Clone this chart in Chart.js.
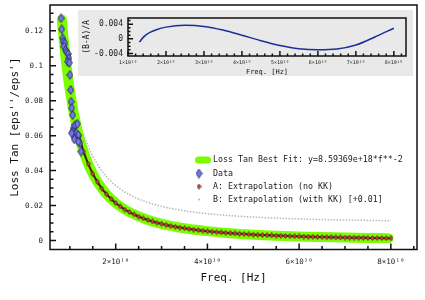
<!DOCTYPE html>
<html>
<head>
<meta charset="utf-8">
<script src="https://cdn.jsdelivr.net/npm/chart.js@4.4.1/dist/chart.umd.min.js"></script>
<style>
  body { margin: 0; background: #fff; }
  #wrap { position: relative; width: 425px; height: 300px; }
  #main { position: absolute; left: 0; top: 0; }
  #insetBox { position: absolute; left: 78px; top: 10px; width: 335px; height: 66px; background: #e9e9e9; }
</style>
</head>
<body>
<div id="wrap">
  <canvas id="main" width="425" height="300"></canvas>
  <div id="insetBox"><canvas id="inset" width="335" height="66"></canvas></div>
</div>
<script>
// frequencies are in units of 1e10 Hz
const mono = "'DejaVu Sans Mono', monospace";

const dataFreq = [0.807, 0.822, 0.844, 0.857, 0.894, 0.872, 0.909, 0.931, 0.966, 0.981, 0.953, 0.988,
  1.003, 1.019, 1.025, 1.040, 1.062, 1.075, 1.112, 1.163, 1.062, 1.134, 1.184, 1.091, 1.221, 1.243,
  1.040, 1.097, 1.184];
const dataLoss = [0.1271, 0.1208, 0.1157, 0.1137, 0.1128, 0.1109, 0.1090, 0.1077, 0.1067, 0.1042, 0.1023, 0.1017,
  0.0947, 0.0861, 0.0794, 0.0757, 0.0718, 0.0642, 0.0661, 0.0667, 0.0623, 0.0614, 0.0604, 0.0594, 0.0557, 0.0509,
  0.0614, 0.0579, 0.0566];

const fitFreq = [0.825, 0.85, 0.9, 0.95, 1.0, 1.1, 1.2, 1.3, 1.4, 1.5, 1.6, 1.8, 2.0, 2.2, 2.5, 2.8,
  3.2, 3.6, 4.0, 4.5, 5.0, 5.5, 6.0, 6.5, 7.0, 7.5, 7.95];
const fitLoss = [0.1263, 0.1189, 0.1061, 0.0952, 0.0859, 0.0710, 0.0597, 0.0509, 0.0438, 0.0382, 0.0336, 0.0265,
  0.0215, 0.0178, 0.0138, 0.0110, 0.0084, 0.0066, 0.0054, 0.0042, 0.0034, 0.0028, 0.0024, 0.0020, 0.0018,
  0.0015, 0.0014];

const aFreq = [1.2, 1.3, 1.4, 1.5, 1.6, 1.7, 1.8, 1.9, 2.0, 2.1, 2.2, 2.3, 2.4, 2.5, 2.6, 2.7, 2.8, 2.9,
  3.0, 3.1, 3.2, 3.3, 3.4, 3.5, 3.6, 3.7, 3.8, 3.9, 4.0, 4.1, 4.2, 4.3, 4.4, 4.5, 4.6, 4.7, 4.8, 4.9,
  5.0, 5.1, 5.2, 5.3, 5.4, 5.5, 5.6, 5.7, 5.8, 5.9, 6.0, 6.1, 6.2, 6.3, 6.4, 6.5, 6.6, 6.7, 6.8, 6.9,
  7.0, 7.1, 7.2, 7.3, 7.4, 7.5, 7.6, 7.7, 7.8, 7.9, 8.0];
const aLoss = [0.05968, 0.05085, 0.04385, 0.03819, 0.03357, 0.02974, 0.02652, 0.02381, 0.02148, 0.01949,
  0.01776, 0.01625, 0.01492, 0.01375, 0.01271, 0.01179, 0.01096, 0.01022, 0.00955, 0.00894, 0.00839,
  0.00789, 0.00743, 0.00702, 0.00663, 0.00628, 0.00595, 0.00565, 0.00537, 0.00511, 0.00487, 0.00465,
  0.00444, 0.00424, 0.00406, 0.00389, 0.00373, 0.00358, 0.00344, 0.00330, 0.00318, 0.00306, 0.00295,
  0.00284, 0.00274, 0.00265, 0.00255, 0.00247, 0.00239, 0.00231, 0.00224, 0.00217, 0.00210, 0.00203,
  0.00197, 0.00191, 0.00186, 0.00180, 0.00175, 0.00170, 0.00166, 0.00161, 0.00157, 0.00153, 0.00149,
  0.00145, 0.00141, 0.00138, 0.00134];

const bFreq = aFreq.slice(1);
const bLoss = [0.06085, 0.05385, 0.04819, 0.04357, 0.03974, 0.03652, 0.03381, 0.03148, 0.02949, 0.02776,
  0.02625, 0.02492, 0.02375, 0.02271, 0.02179, 0.02096, 0.02022, 0.01955, 0.01894, 0.01839, 0.01789,
  0.01743, 0.01702, 0.01663, 0.01628, 0.01595, 0.01565, 0.01537, 0.01511, 0.01487, 0.01465, 0.01444,
  0.01424, 0.01406, 0.01389, 0.01373, 0.01358, 0.01344, 0.01330, 0.01318, 0.01306, 0.01295, 0.01284,
  0.01274, 0.01265, 0.01255, 0.01247, 0.01239, 0.01231, 0.01224, 0.01217, 0.01210, 0.01203, 0.01197,
  0.01191, 0.01186, 0.01180, 0.01175, 0.01170, 0.01166, 0.01161, 0.01157, 0.01153, 0.01149, 0.01145,
  0.01141, 0.01138, 0.01134];

const ratioFreq = [1.3, 1.4, 1.5, 1.75, 2.0, 2.5, 3.0, 3.5, 4.0, 4.5, 5.0, 5.5, 6.0, 6.5, 7.0, 7.5, 8.0];
const ratioVal = [-0.0009, 0.0004, 0.0013, 0.0025, 0.0032, 0.0037, 0.0034, 0.0024, 0.0010, -0.0005,
  -0.0018, -0.0027, -0.0030, -0.0028, -0.0017, 0.0005, 0.0029];

const xTickValues = [2, 4, 6, 8];
const xTickLabels = ['2×10¹⁰', '4×10¹⁰', '6×10¹⁰', '8×10¹⁰'];
const yTickValues = [0, 0.02, 0.04, 0.06, 0.08, 0.1, 0.12];
const yTickLabels = ['0', '0.02', '0.04', '0.06', '0.08', '0.1', '0.12'];

const insetXTickValues = [1, 2, 3, 4, 5, 6, 7, 8];
const insetXTickLabels = ['1×10¹⁰', '2×10¹⁰', '3×10¹⁰', '4×10¹⁰', '5×10¹⁰', '6×10¹⁰', '7×10¹⁰', '8×10¹⁰'];
const insetYTickValues = [-0.004, 0, 0.004];
const insetYTickLabels = ['-0.004', '0', '0.004'];

const legendLabels = [
  'Loss Tan Best Fit: y=8.59369e+18*f**-2',
  'Data',
  'A: Extrapolation (no KK)',
  'B: Extrapolation (with KK) [+0.01]'
];

function pts(xs, ys) {
  return xs.map((x, i) => ({ x: x, y: ys[i] }));
}

function diamond(w, h, fill, stroke, lw) {
  const c = document.createElement('canvas');
  c.width = w; c.height = h;
  const g = c.getContext('2d');
  g.beginPath();
  g.moveTo(w / 2, 0.6);
  g.lineTo(w - 0.6, h / 2);
  g.lineTo(w / 2, h - 0.6);
  g.lineTo(0.6, h / 2);
  g.closePath();
  g.fillStyle = fill;
  g.fill();
  g.strokeStyle = stroke;
  g.lineWidth = lw;
  g.stroke();
  return c;
}

const dataImg = diamond(7, 10, '#7878ec', '#22225e', 0.9);
const aImg = diamond(5, 6, '#e84848', '#3a1a1a', 0.8);

// keep the plot box where it is: no extra room for tick labels
function noPad(s) {
  s.paddingTop = 0; s.paddingBottom = 0; s.paddingLeft = 0; s.paddingRight = 0;
}

// border box plus inward ticks
const frame = {
  id: 'frame',
  afterDatasetsDraw(chart, args, o) {
    const { ctx, chartArea: a } = chart;
    const x = chart.scales.x, y = chart.scales.y;
    ctx.save();
    ctx.strokeStyle = '#111';
    ctx.lineWidth = o.lineWidth;
    ctx.beginPath();
    for (let v = o.xMinorStart; v <= x.max + 1e-9; v += o.xMinor) {
      const p = x.getPixelForValue(v);
      const major = Math.abs(v / o.xMajor - Math.round(v / o.xMajor)) < 1e-6;
      ctx.moveTo(p, a.bottom);
      ctx.lineTo(p, a.bottom - (major ? o.major : o.minor));
    }
    for (let v = o.yMinorStart; v <= y.max + 1e-12; v += o.yMinor) {
      const p = y.getPixelForValue(v);
      const major = Math.abs(v / o.yMajor - Math.round(v / o.yMajor)) < 1e-6;
      ctx.moveTo(a.left, p);
      ctx.lineTo(a.left + (major ? o.major : o.minor), p);
    }
    ctx.stroke();
    ctx.strokeRect(a.left, a.top, a.right - a.left, a.bottom - a.top);
    ctx.restore();
  }
};

const keyBox = {
  id: 'keyBox',
  afterDraw(chart, args, o) {
    const ctx = chart.ctx;
    ctx.save();
    ctx.font = o.size + 'px ' + mono;
    ctx.textBaseline = 'middle';
    legendLabels.forEach((t, i) => {
      const yy = o.rows[i];
      if (i === 0) {
        ctx.fillStyle = '#7cfc00';
        ctx.beginPath();
        ctx.roundRect(o.pillX - 8, yy - 3.5, 16, 7, 3.5);
        ctx.fill();
      } else if (i === 1) {
        ctx.drawImage(dataImg, o.symX - 3.5, yy - 5);
      } else if (i === 2) {
        ctx.drawImage(aImg, o.symX - 2.5, yy - 3);
      } else {
        ctx.fillStyle = '#b4b4b4';
        ctx.beginPath();
        ctx.arc(o.symX, yy, 1, 0, Math.PI * 2);
        ctx.fill();
      }
      ctx.fillStyle = '#222';
      ctx.fillText(t, o.textX, yy);
    });
    ctx.restore();
  }
};

new Chart(document.getElementById('main'), {
  type: 'scatter',
  data: {
    datasets: [
      { label: legendLabels[1], data: pts(dataFreq, dataLoss), pointStyle: dataImg, pointRadius: 4, order: 0 },
      { label: legendLabels[2], data: pts(aFreq, aLoss), showLine: true, borderColor: '#3e2020', borderWidth: 2,
        cubicInterpolationMode: 'monotone', pointStyle: aImg, pointRadius: 2, order: 1 },
      { label: legendLabels[3], data: pts(bFreq, bLoss), showLine: true, borderColor: '#b8b8b8', borderWidth: 1.5,
        borderDash: [1.5, 1.5], cubicInterpolationMode: 'monotone', pointRadius: 0, order: 2 },
      { label: legendLabels[0], data: pts(fitFreq, fitLoss), showLine: true, borderColor: '#7cfc00', borderWidth: 10,
        borderCapStyle: 'round', borderJoinStyle: 'round', cubicInterpolationMode: 'monotone', pointRadius: 0, order: 3 }
    ]
  },
  options: {
    responsive: false,
    animation: false,
    events: [],
    layout: { autoPadding: false, padding: { left: 0, right: 8, top: 5, bottom: 0 } },
    plugins: {
      legend: { display: false },
      tooltip: { enabled: false },
      frame: { lineWidth: 1.5, major: 6, minor: 3.5, xMajor: 2, xMinor: 0.5, xMinorStart: 1,
        yMajor: 0.02, yMinor: 0.005, yMinorStart: 0 },
      keyBox: { size: 8.3, rows: [160, 173.5, 186.5, 199.5], pillX: 203, symX: 199, textX: 213 }
    },
    scales: {
      x: {
        type: 'linear', min: 0.567, max: 8.57,
        grid: { display: false, drawTicks: false }, border: { display: false },
        afterBuildTicks: s => { s.ticks = xTickValues.map(v => ({ value: v })); },
        afterFit: s => { s.height = 50.5; noPad(s); },
        ticks: { callback: (v, i) => xTickLabels[i], font: { family: mono, size: 7.5 }, color: '#222',
          padding: 8, maxRotation: 0, autoSkip: false },
        title: { display: true, text: 'Freq. [Hz]', font: { family: mono, size: 11 }, color: '#111',
          padding: { top: 0, bottom: 15.5 } }
      },
      y: {
        type: 'linear', min: -0.0051, max: 0.1347,
        grid: { display: false, drawTicks: false }, border: { display: false },
        afterBuildTicks: s => { s.ticks = yTickValues.map(v => ({ value: v })); },
        afterFit: s => { s.width = 50; noPad(s); },
        ticks: { callback: (v, i) => yTickLabels[i], font: { family: mono, size: 7.5 }, color: '#222',
          padding: 7, autoSkip: false },
        title: { display: true, text: "Loss Tan [eps''/eps']", font: { family: mono, size: 11 }, color: '#111',
          padding: { top: 9, bottom: 0 } }
      }
    }
  },
  plugins: [frame, keyBox]
});

new Chart(document.getElementById('inset'), {
  type: 'scatter',
  data: {
    datasets: [
      { data: pts(ratioFreq, ratioVal), showLine: true, borderColor: '#1a2f9a', borderWidth: 1.5,
        cubicInterpolationMode: 'monotone', pointRadius: 0 }
    ]
  },
  options: {
    responsive: false,
    animation: false,
    events: [],
    layout: { autoPadding: false, padding: { left: 0, right: 7, top: 8, bottom: 0 } },
    plugins: {
      legend: { display: false },
      tooltip: { enabled: false },
      frame: { lineWidth: 1.5, major: 5, minor: 2.5, xMajor: 1, xMinor: 0.2, xMinorStart: 1,
        yMajor: 0.004, yMinor: 0.001, yMinorStart: -0.004 }
    },
    scales: {
      x: {
        type: 'linear', min: 1, max: 8.32,
        grid: { display: false, drawTicks: false }, border: { display: false },
        afterBuildTicks: s => { s.ticks = insetXTickValues.map(v => ({ value: v })); },
        afterFit: s => { s.height = 20; noPad(s); },
        ticks: { callback: (v, i) => insetXTickLabels[i], font: { family: mono, size: 5 }, color: '#222',
          padding: 3.5, maxRotation: 0, autoSkip: false },
        title: { display: true, text: 'Freq. [Hz]', font: { family: mono, size: 7 }, color: '#111',
          padding: { top: 0, bottom: 0 } }
      },
      y: {
        type: 'linear', min: -0.0047, max: 0.0057,
        grid: { display: false, drawTicks: false }, border: { display: false },
        afterBuildTicks: s => { s.ticks = insetYTickValues.map(v => ({ value: v })); },
        afterFit: s => { s.width = 50; noPad(s); },
        ticks: { callback: (v, i) => insetYTickLabels[i], font: { family: mono, size: 8 }, color: '#222',
          padding: 5, autoSkip: false },
        title: { display: true, text: '(B-A)/A', font: { family: mono, size: 8 }, color: '#111',
          padding: { top: 4.5, bottom: 0 } }
      }
    }
  },
  plugins: [frame]
});
</script>
</body>
</html>
